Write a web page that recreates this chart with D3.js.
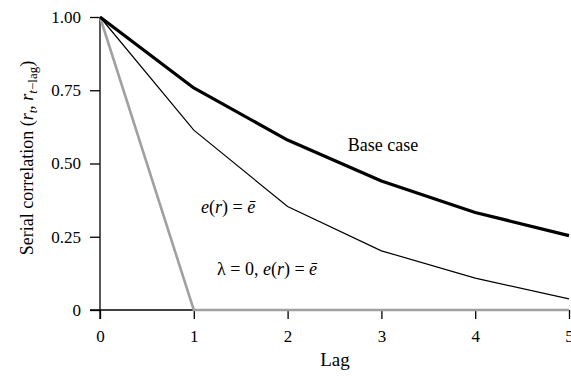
<!DOCTYPE html>
<html>
<head>
<meta charset="utf-8">
<script src="https://cdn.jsdelivr.net/npm/d3@7"></script>
<style>
  body { margin: 0; background: #fff; }
  text { font-family: "Liberation Serif", "Times New Roman", serif; fill: #000; }
</style>
</head>
<body>
<script>
// lags and the three correlation series
const lags = [0, 1, 2, 3, 4, 5];
const baseCase = [1.00, 0.758, 0.580, 0.440, 0.333, 0.254];
const constE = [1.00, 0.614, 0.353, 0.202, 0.109, 0.038];
const lambdaZero = [1.00, 0, 0, 0, 0, 0];
const yTicks = [0, 0.25, 0.5, 0.75, 1];
const yTickLabels = ["0", "0.25", "0.50", "0.75", "1.00"];

const w = 571;
const h = 376;
const serif = "Liberation Serif, Times New Roman, serif";

const svg = d3.select('body')
  .append('svg')
  .attr('width', w)
  .attr('height', h)

const xScale = d3.scaleLinear()
  .domain([0, 5])
  .range([100, 569])

const yScale = d3.scaleLinear()
  .domain([0, 1])
  .range([310, 17])

// axes
const xAxis = d3.axisBottom(xScale).tickValues(lags).tickFormat(d3.format("d")).tickSize(9).tickSizeOuter(0);
const yAxis = d3.axisLeft(yScale).tickValues(yTicks).tickFormat((d, i) => yTickLabels[i]).tickSize(10).tickSizeOuter(0);

const gx = svg.append('g')
  .attr("transform", "translate(0," + yScale(0) + ")")
  .call(xAxis)
  .attr('font-family', serif)
  .attr('font-size', 17)
gx.select('.domain').attr('d', 'M90,0H' + xScale(5)).attr('stroke-width', 1.3)
gx.selectAll('.tick line').attr('stroke-width', 1.3)
gx.selectAll('.tick text').attr('y', 20)

const gy = svg.append('g')
  .attr("transform", "translate(" + xScale(0) + ",0)")
  .call(yAxis)
  .attr('font-family', serif)
  .attr('font-size', 17)
gy.select('.domain').attr('d', 'M0,' + yScale(1) + 'V' + (yScale(0) + 9)).attr('stroke-width', 1.3)
gy.selectAll('.tick line').attr('stroke-width', 1.3)
gy.selectAll('.tick text').attr('x', -19)

// axis labels
svg.append("text")
  .attr("x", 335)
  .attr("y", 366)
  .attr("text-anchor", "middle")
  .attr("font-size", 19)
  .text("Lag")

const yl = svg.append("text")
  .attr("transform", "translate(33,158) rotate(-90)")
  .attr("text-anchor", "middle")
  .attr("font-size", 18)
yl.append("tspan").text("Serial correlation (")
yl.append("tspan").attr("font-style", "italic").text("r")
yl.append("tspan").attr("font-style", "italic").attr("font-size", 13).attr("dy", 4).text("t")
yl.append("tspan").attr("dy", -4).text(", ")
yl.append("tspan").attr("font-style", "italic").text("r")
yl.append("tspan").attr("font-style", "italic").attr("font-size", 13).attr("dy", 4).text("t")
yl.append("tspan").attr("font-size", 13).text("\u2212lag")
yl.append("tspan").attr("dy", -4).text(")")

// lines
const line = d3.line()
  .x((d, i) => xScale(lags[i]))
  .y(d => yScale(d))

svg.append('path')
  .datum(lambdaZero)
  .attr('d', line)
  .attr('fill', 'none')
  .attr('stroke', '#a0a0a0')
  .attr('stroke-width', 2.6)

svg.append('path')
  .datum(constE)
  .attr('d', line)
  .attr('fill', 'none')
  .attr('stroke', '#000')
  .attr('stroke-width', 1.2)

svg.append('path')
  .datum(baseCase)
  .attr('d', line)
  .attr('fill', 'none')
  .attr('stroke', '#000')
  .attr('stroke-width', 3.2)
  .attr('stroke-linejoin', 'round')

// annotations
svg.append("text")
  .attr("x", 383)
  .attr("y", 151)
  .attr("text-anchor", "middle")
  .attr("font-size", 18)
  .text("Base case")

const t1 = svg.append("text")
  .attr("x", 201)
  .attr("y", 213)
  .attr("font-size", 18)
t1.append("tspan").attr("font-style", "italic").text("e")
t1.append("tspan").text("(")
t1.append("tspan").attr("font-style", "italic").text("r")
t1.append("tspan").text(") = ")
t1.append("tspan").attr("font-style", "italic").text("\u0113")

const t2 = svg.append("text")
  .attr("x", 217)
  .attr("y", 275)
  .attr("font-size", 18)
t2.append("tspan").text("\u03bb = 0, ")
t2.append("tspan").attr("font-style", "italic").text("e")
t2.append("tspan").text("(")
t2.append("tspan").attr("font-style", "italic").text("r")
t2.append("tspan").text(") = ")
t2.append("tspan").attr("font-style", "italic").text("\u0113")
</script>
</body>
</html>
